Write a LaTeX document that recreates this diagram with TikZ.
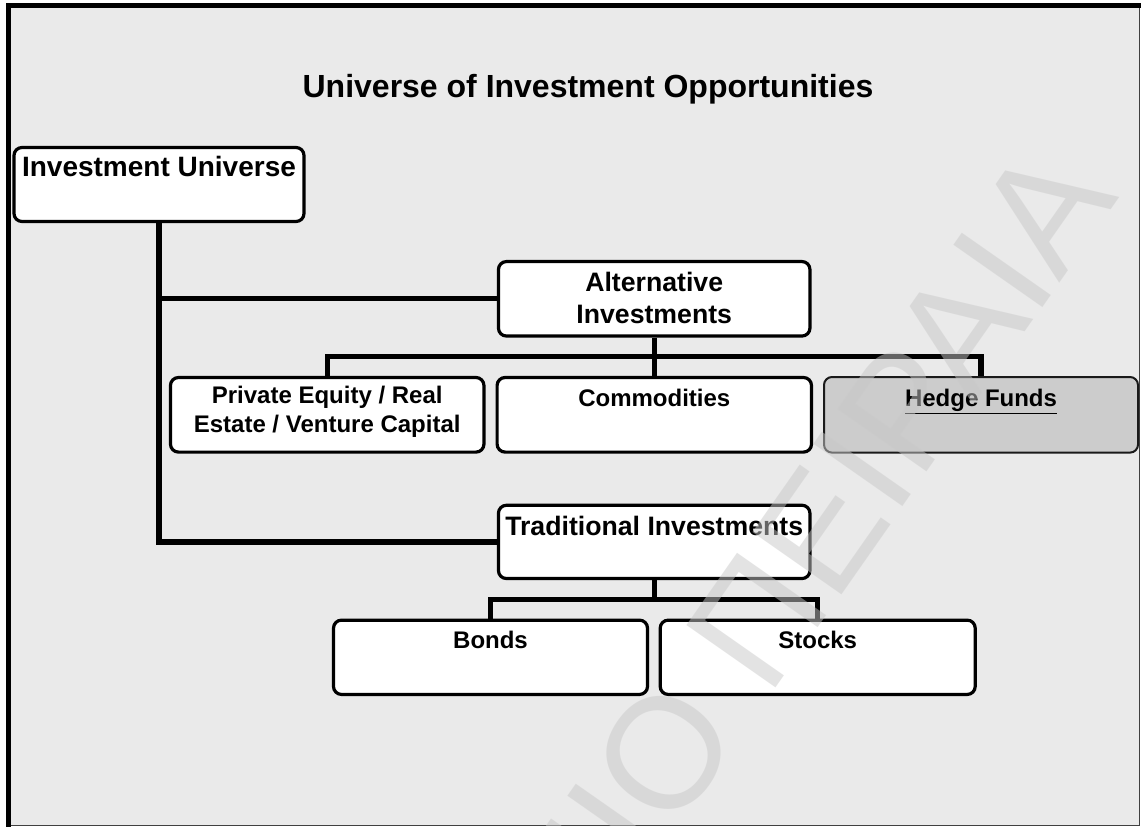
\documentclass[tikz,border=0pt]{standalone}
\usepackage{fontspec}
\setmainfont{Liberation Sans}
\usetikzlibrary{calc}
\definecolor{panel}{HTML}{EAEAEA}
\definecolor{hedgefill}{HTML}{CCCCCC}
\definecolor{hedgeline}{HTML}{1A1A1A}
\definecolor{framegray}{HTML}{404040}
\definecolor{wmgray}{HTML}{C8C8C8}

\begin{document}
\begin{tikzpicture}[x=0.75pt,y=-0.75pt,
  box/.style 2 args={draw=black, line width=2.4pt, rounded corners=6pt, fill=white,
    inner sep=0pt, minimum width=#1*0.75pt, minimum height=#2*0.75pt},
  hedgebox/.style 2 args={box={#1}{#2}, fill=hedgefill, draw=hedgeline, line width=1.5pt},
  bigtext/.style={font=\fontsize{20}{24}\selectfont\bfseries, inner sep=0pt, anchor=base, align=center},
  smalltext/.style={font=\fontsize{18}{21.75}\selectfont\bfseries, inner sep=0pt, anchor=base, align=center},
  titletext/.style={font=\fontsize{24}{28}\selectfont\bfseries, inner sep=0pt, anchor=base},
  link/.style={line width=4pt, black},
  watermark/.style={rotate=55, anchor=base east, inner sep=0pt, text=wmgray, text opacity=0.5,
    font=\fontsize{118.5}{118.5}\selectfont},
  ]
\useasboundingbox (0,0) rectangle (1141,827);
\fill[white] (0,0) rectangle (1141,827);
\fill[panel] (8,6) rectangle (1139,825);

% frame
\draw[framegray, line width=0.75pt] (1139.5,5.5) -- (1139.5,825.5) -- (8.5,825.5);
\draw[black, line width=3.2pt] (8.5,827) -- (8.5,5.5) -- (1141,5.5);

% title
\node[titletext] (title) at (588,97.5) {Universe of Investment Opportunities};

% boxes
\node[box={290}{74}]     (iu)     at (159,184.5) {};
\node[box={311.5}{74.5}] (alt)    at (654.2,298.8) {};
\node[box={313.5}{74.6}] (pe)     at (327.2,414.8) {};
\node[box={314.4}{74.6}] (com)    at (654.3,414.8) {};
\node[hedgebox={314}{75.6}] (hf)  at (981,414.8) {};
\node[box={311.5}{73.3}] (trad)   at (654.2,541.9) {};
\node[box={314}{74.3}]   (bonds)  at (490.5,657.3) {};
\node[box={315}{74.3}]   (stocks) at (817.7,657.3) {};

% labels (the base of a two-line label is that of its last line)
\node[bigtext, font=\fontsize{21}{24}\selectfont\bfseries] (iut) at ($(iu.north)+(0,30.7)$) {Investment Universe};
\node[bigtext]   (altt) at ($(alt.north)+(0,63.5)$)   {Alternative\\Investments};
\node[smalltext] (pet)  at ($(pe.north)+(0,57)$)      {Private Equity / Real\\Estate / Venture Capital};
\node[smalltext] (comt) at ($(com.north)+(0,30.4)$)   {Commodities};
\node[smalltext] (hft)  at ($(hf.north)+(0,30.4)$)    {\underline{Hedge Funds}};
\node[bigtext]   (trt)  at ($(trad.north)+(0,31.8)$)  {Traditional Investments};
\node[smalltext] (bot)  at ($(bonds.north)+(0,29.7)$) {Bonds};
\node[smalltext] (stt)  at ($(stocks.north)+(0,29.7)$){Stocks};

% connectors
\coordinate (altbar)  at ($(alt.south)!0.5!(alt.south |- com.north)$);
\coordinate (tradbar) at ($(trad.south)!0.5!(trad.south |- bonds.north)$);
\draw[link] (iu.south) |- (trad.west);
\draw[link] (alt.west) -- (alt.west -| iu.south);
\draw[link] (alt.south) -- (alt.south |- com.north);
\draw[link] (pe.north) |- (altbar) -| (hf.north);
\draw[link] (trad.south) -- (tradbar);
\draw[link] (bonds.north) |- (tradbar) -| (stocks.north);

% watermark
\begin{scope}
  \clip (8,6) rectangle (1139,825);
  \node[watermark] (wm) at (1120,197) {ΠΑΝΕΠΙΣΤΗΜΙΟ ΠΕΙΡΑΙΑ};
\end{scope}
\end{tikzpicture}
\end{document}
